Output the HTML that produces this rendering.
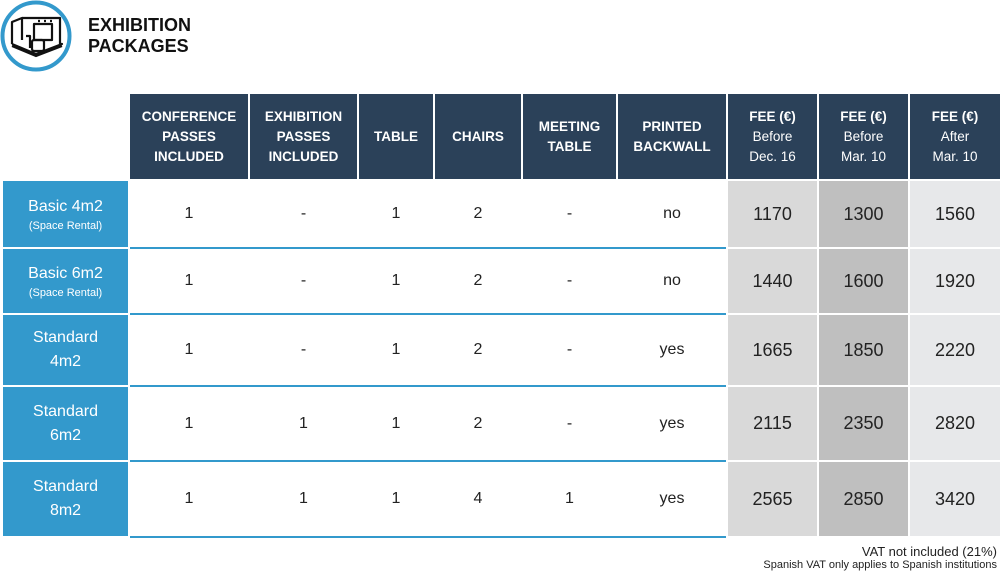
<!DOCTYPE html>
<html><head><meta charset="utf-8"><style>
*{margin:0;padding:0;box-sizing:border-box}
body{width:1000px;height:574px;background:#fff;position:relative;overflow:hidden;font-family:"Liberation Sans",sans-serif;color:#222}
.a{position:absolute;display:flex;align-items:center;justify-content:center;text-align:center}
.h{background:#2b4159;color:#fff;font-size:13.5px;line-height:20px;top:94px;height:85px}
.h b{font-weight:bold}
.l{background:#3399cc;color:#fff;left:3px;width:125px;font-size:16px;line-height:24px;flex-direction:column}
.l small{font-size:11px;line-height:14px}
.w{border-bottom:2px solid #3399cc;font-size:16px}
.f{font-size:18px}
.f1{background:#d9d9d9}.f2{background:#bfbfbf}.f3{background:#e7e8ea}
</style></head><body>
<svg style="position:absolute;left:0;top:0" width="76" height="76" viewBox="0 0 76 76">
<circle cx="36" cy="36" r="33.5" fill="#fff" stroke="#3399cc" stroke-width="4"/>
<g fill="none" stroke="#111" stroke-width="2.2" stroke-linejoin="round">
<path d="M12 44 L12 22 L22 18 L22 40"/><path d="M22 18 L60 18 L60 44"/>
<path d="M12 44 L36 54 L62 44 L60 44"/><path d="M12 46 L36 56 L62 46"/>
<path d="M34 24 L52 24 L52 40 L34 40 Z"/><path d="M26 36 L30 36 L30 48"/>
<rect x="32" y="40" width="12" height="11" rx="2"/><path d="M38 21 L40 21 M44 21 L46 21 M50 21 L52 21"/>
</g></svg>
<div style="position:absolute;left:88px;top:15px;font-size:18px;font-weight:bold;line-height:21px;color:#111">EXHIBITION<br>PACKAGES</div>

<div class="a h" style="left:130px;width:118px"><b>CONFERENCE<br>PASSES<br>INCLUDED</b></div>
<div class="a h" style="left:250px;width:107px"><b>EXHIBITION<br>PASSES<br>INCLUDED</b></div>
<div class="a h" style="left:359px;width:74px"><b>TABLE</b></div>
<div class="a h" style="left:435px;width:86px"><b>CHAIRS</b></div>
<div class="a h" style="left:523px;width:93px"><b>MEETING<br>TABLE</b></div>
<div class="a h" style="left:618px;width:108px"><b>PRINTED<br>BACKWALL</b></div>
<div class="a h" style="left:728px;width:89px"><span><b>FEE (€)</b><br>Before<br>Dec. 16</span></div>
<div class="a h" style="left:819px;width:89px"><span><b>FEE (€)</b><br>Before<br>Mar. 10</span></div>
<div class="a h" style="left:910px;width:90px"><span><b>FEE (€)</b><br>After<br>Mar. 10</span></div>

<!-- row 0 -->
<div class="a l" style="top:181px;height:66px">Basic 4m2<small>(Space Rental)</small></div>
<div class="a w" style="top:181px;height:68px;left:130px;width:596px;display:block"></div>
<div class="a" style="top:181px;height:66px;left:130px;width:118px">1</div>
<div class="a" style="top:181px;height:66px;left:250px;width:107px">-</div>
<div class="a" style="top:181px;height:66px;left:359px;width:74px">1</div>
<div class="a" style="top:181px;height:66px;left:435px;width:86px">2</div>
<div class="a" style="top:181px;height:66px;left:523px;width:93px">-</div>
<div class="a" style="top:181px;height:66px;left:618px;width:108px">no</div>
<div class="a f f1" style="top:181px;height:66px;left:728px;width:89px">1170</div>
<div class="a f f2" style="top:181px;height:66px;left:819px;width:89px">1300</div>
<div class="a f f3" style="top:181px;height:66px;left:910px;width:90px">1560</div>
<!-- row 1 -->
<div class="a l" style="top:249px;height:64px">Basic 6m2<small>(Space Rental)</small></div>
<div class="a w" style="top:249px;height:66px;left:130px;width:596px;display:block"></div>
<div class="a" style="top:249px;height:64px;left:130px;width:118px">1</div>
<div class="a" style="top:249px;height:64px;left:250px;width:107px">-</div>
<div class="a" style="top:249px;height:64px;left:359px;width:74px">1</div>
<div class="a" style="top:249px;height:64px;left:435px;width:86px">2</div>
<div class="a" style="top:249px;height:64px;left:523px;width:93px">-</div>
<div class="a" style="top:249px;height:64px;left:618px;width:108px">no</div>
<div class="a f f1" style="top:249px;height:64px;left:728px;width:89px">1440</div>
<div class="a f f2" style="top:249px;height:64px;left:819px;width:89px">1600</div>
<div class="a f f3" style="top:249px;height:64px;left:910px;width:90px">1920</div>
<!-- row 2 -->
<div class="a l" style="top:315px;height:70px">Standard<br>4m2</div>
<div class="a w" style="top:315px;height:72px;left:130px;width:596px;display:block"></div>
<div class="a" style="top:315px;height:70px;left:130px;width:118px">1</div>
<div class="a" style="top:315px;height:70px;left:250px;width:107px">-</div>
<div class="a" style="top:315px;height:70px;left:359px;width:74px">1</div>
<div class="a" style="top:315px;height:70px;left:435px;width:86px">2</div>
<div class="a" style="top:315px;height:70px;left:523px;width:93px">-</div>
<div class="a" style="top:315px;height:70px;left:618px;width:108px">yes</div>
<div class="a f f1" style="top:315px;height:70px;left:728px;width:89px">1665</div>
<div class="a f f2" style="top:315px;height:70px;left:819px;width:89px">1850</div>
<div class="a f f3" style="top:315px;height:70px;left:910px;width:90px">2220</div>
<!-- row 3 -->
<div class="a l" style="top:387px;height:73px">Standard<br>6m2</div>
<div class="a w" style="top:387px;height:75px;left:130px;width:596px;display:block"></div>
<div class="a" style="top:387px;height:73px;left:130px;width:118px">1</div>
<div class="a" style="top:387px;height:73px;left:250px;width:107px">1</div>
<div class="a" style="top:387px;height:73px;left:359px;width:74px">1</div>
<div class="a" style="top:387px;height:73px;left:435px;width:86px">2</div>
<div class="a" style="top:387px;height:73px;left:523px;width:93px">-</div>
<div class="a" style="top:387px;height:73px;left:618px;width:108px">yes</div>
<div class="a f f1" style="top:387px;height:73px;left:728px;width:89px">2115</div>
<div class="a f f2" style="top:387px;height:73px;left:819px;width:89px">2350</div>
<div class="a f f3" style="top:387px;height:73px;left:910px;width:90px">2820</div>
<!-- row 4 -->
<div class="a l" style="top:462px;height:74px">Standard<br>8m2</div>
<div class="a w" style="top:462px;height:76px;left:130px;width:596px;display:block"></div>
<div class="a" style="top:462px;height:74px;left:130px;width:118px">1</div>
<div class="a" style="top:462px;height:74px;left:250px;width:107px">1</div>
<div class="a" style="top:462px;height:74px;left:359px;width:74px">1</div>
<div class="a" style="top:462px;height:74px;left:435px;width:86px">4</div>
<div class="a" style="top:462px;height:74px;left:523px;width:93px">1</div>
<div class="a" style="top:462px;height:74px;left:618px;width:108px">yes</div>
<div class="a f f1" style="top:462px;height:74px;left:728px;width:89px">2565</div>
<div class="a f f2" style="top:462px;height:74px;left:819px;width:89px">2850</div>
<div class="a f f3" style="top:462px;height:74px;left:910px;width:90px">3420</div>

<div style="position:absolute;right:3px;top:545px;font-size:13px;line-height:14px;text-align:right">VAT not included (21%)</div>
<div style="position:absolute;right:3px;top:559px;font-size:11px;line-height:13px;text-align:right">Spanish VAT only applies to Spanish institutions</div>
</body></html>
